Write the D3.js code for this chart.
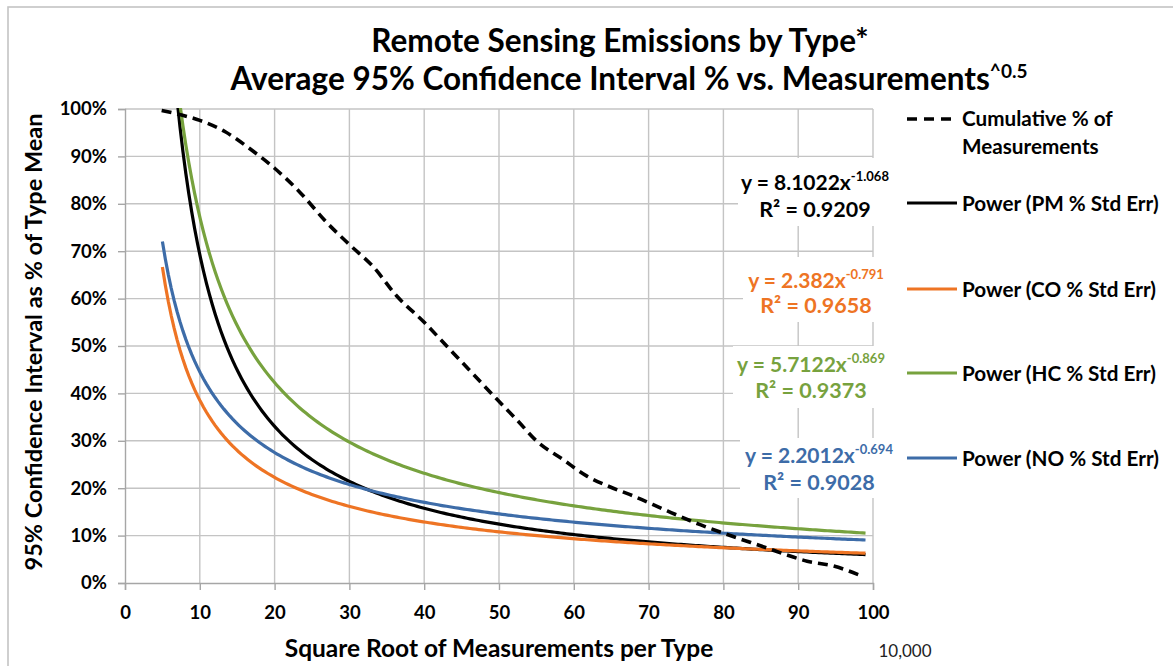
<!DOCTYPE html>
<html>
<head>
<meta charset="utf-8">
<script src="https://cdn.jsdelivr.net/npm/d3@7"></script>
<style>
  html, body { margin: 0; padding: 0; background: #fff; }
  svg { display: block; font-family: Lato, "Open Sans", sans-serif; }
</style>
</head>
<body>
<svg id="chart" width="1173" height="666"></svg>
<script>
// Axis ticks
const xTicks = [0, 10, 20, 30, 40, 50, 60, 70, 80, 90, 100];
const yTicks = [0, 0.1, 0.2, 0.3, 0.4, 0.5, 0.6, 0.7, 0.8, 0.9, 1.0];

// Cumulative % of measurements vs. square root of measurements
const cumX = [4.9, 7.4, 10, 13.4, 16.7, 20, 23.4, 27, 30, 33.2, 36.3, 40, 43, 46, 49.7,
              52.4, 55, 58.6, 61.7, 64.8, 67.9, 72.5, 76.9, 81.3, 85.8, 88.5, 91.2, 94.7, 98.3];
const cumY = [0.997, 0.988, 0.976, 0.952, 0.916, 0.875, 0.824, 0.76, 0.714, 0.667, 0.606, 0.55, 0.50, 0.45, 0.388,
              0.344, 0.30, 0.26, 0.226, 0.203, 0.184, 0.152, 0.123, 0.098, 0.074, 0.059, 0.046, 0.036, 0.016];

// Power trendlines y = a * x^b, as labelled
const trendNames = ["PM", "CO", "HC", "NO"];
const trendCoef  = [8.1022, 2.382, 5.7122, 2.2012];
const trendCoefText = ["8.1022", "2.382", "5.7122", "2.2012"];
const trendExp   = [-1.068, -0.791, -0.869, -0.694];
const trendExpText = ["-1.068", "-0.791", "-0.869", "-0.694"];
const trendR2    = ["0.9209", "0.9658", "0.9373", "0.9028"];
const trendColors = ["#000000", "#EE7424", "#77A23E", "#3D6CA8"];
const trendRange = [5, 99];

const svg = d3.select("#chart");
const W = 1173, H = 666;
const plot = { left: 125, right: 873, top: 109, bottom: 583 };

const x = d3.scaleLinear().domain([0, 100]).range([plot.left, plot.right]);
const y = d3.scaleLinear().domain([0, 1]).range([plot.bottom, plot.top]);

// Outer chart frame (top and left edges visible)
svg.append("rect")
  .attr("x", 8).attr("y", 7).attr("width", W + 20).attr("height", H + 20)
  .attr("fill", "none").attr("stroke", "#c4c4c4").attr("stroke-width", 1.6);

// Gridlines
const grid = svg.append("g");
grid.selectAll("line.v").data(xTicks.slice(1)).join("line")
  .attr("x1", d => x(d)).attr("x2", d => x(d))
  .attr("y1", plot.top).attr("y2", plot.bottom)
  .attr("stroke", "#c4c4c4").attr("stroke-width", 1.4);
grid.selectAll("line.h").data(yTicks.slice(1)).join("line")
  .attr("y1", d => y(d)).attr("y2", d => y(d))
  .attr("x1", plot.left).attr("x2", plot.right)
  .attr("stroke", "#c4c4c4").attr("stroke-width", 1.4);

// Axes
const xAxis = d3.axisBottom(x).tickValues(xTicks).tickSize(7).tickPadding(11).tickFormat(d3.format("d"));
const yAxis = d3.axisLeft(y).tickValues(yTicks).tickSize(7).tickPadding(11).tickFormat(d3.format(".0%"));

const gx = svg.append("g").attr("transform", `translate(0,${plot.bottom})`).call(xAxis);
const gy = svg.append("g").attr("transform", `translate(${plot.left},0)`).call(yAxis);
[gx, gy].forEach(g => {
  g.select(".domain").attr("stroke", "#a6a6a6").attr("stroke-width", 1.4);
  g.selectAll(".tick line").attr("stroke", "#a6a6a6").attr("stroke-width", 1.4);
  g.selectAll(".tick text")
    .attr("fill", "#000").attr("font-family", "Lato, sans-serif")
    .attr("font-size", 18.5).attr("font-weight", 700);
});
gx.selectAll(".tick text").attr("dy", "0.95em");

// Clip for series
svg.append("clipPath").attr("id", "plotClip")
  .append("rect").attr("x", plot.left).attr("y", plot.top - 1)
  .attr("width", plot.right - plot.left + 2).attr("height", plot.bottom - plot.top + 1);

const series = svg.append("g").attr("clip-path", "url(#plotClip)");
const line = d3.line().x(d => x(d[0])).y(d => y(d[1])).curve(d3.curveMonotoneX);

// Trendlines
const steps = 240;
trendNames.forEach((name, i) => {
  const pts = d3.range(steps + 1).map(k => {
    const xv = trendRange[0] + (trendRange[1] - trendRange[0]) * k / steps;
    return [xv, trendCoef[i] * Math.pow(xv, trendExp[i])];
  });
  series.append("path")
    .datum(pts)
    .attr("d", d3.line().x(d => x(d[0])).y(d => y(d[1])))
    .attr("fill", "none")
    .attr("stroke", trendColors[i])
    .attr("stroke-width", 3.2);
});

// Cumulative % of measurements (dashed)
series.append("path")
  .datum(cumX.map((v, i) => [v, cumY[i]]))
  .attr("d", line)
  .attr("fill", "none")
  .attr("stroke", "#000")
  .attr("stroke-width", 3.6)
  .attr("stroke-dasharray", "10,6");

// Trendline equation labels with white backing boxes
const labelPos = [
  { cx: 815, y1: 190, y2: 217, box: [738, 158, 155, 68] },
  { cx: 816, y1: 288, y2: 313, box: [743, 257, 145, 65] },
  { cx: 811, y1: 372, y2: 398, box: [733, 346, 157, 62] },
  { cx: 819, y1: 463, y2: 490, box: [740, 438, 158, 60] }
];
const labels = svg.append("g");
trendNames.forEach((name, i) => {
  const p = labelPos[i];
  labels.append("rect")
    .attr("x", p.box[0]).attr("y", p.box[1]).attr("width", p.box[2]).attr("height", p.box[3])
    .attr("fill", "#fff");
  const t1 = labels.append("text")
    .attr("x", p.cx).attr("y", p.y1).attr("text-anchor", "middle")
    .attr("font-size", 21).attr("font-weight", 700).attr("fill", trendColors[i]);
  t1.append("tspan").text(`y = ${trendCoefText[i]}x`);
  t1.append("tspan").attr("dy", -9).attr("font-size", 13).text(trendExpText[i]);
  labels.append("text")
    .attr("x", p.cx).attr("y", p.y2).attr("text-anchor", "middle")
    .attr("font-size", 21.5).attr("font-weight", 700).attr("fill", trendColors[i])
    .text(`R² = ${trendR2[i]}`);
});

// Legend
const legend = svg.append("g").attr("font-size", 20.7).attr("font-weight", 700).attr("fill", "#000");
legend.append("line")
  .attr("x1", 907).attr("x2", 951).attr("y1", 119).attr("y2", 119)
  .attr("stroke", "#000").attr("stroke-width", 3.6).attr("stroke-dasharray", "10,7");
legend.append("text").attr("x", 962).attr("y", 126).text("Cumulative % of");
legend.append("text").attr("x", 962).attr("y", 154).text("Measurements");
const legendY = [203, 289, 373, 458];
trendNames.forEach((name, i) => {
  legend.append("line")
    .attr("x1", 907).attr("x2", 957).attr("y1", legendY[i]).attr("y2", legendY[i])
    .attr("stroke", trendColors[i]).attr("stroke-width", 3.2);
  legend.append("text").attr("x", 962).attr("y", legendY[i] + 7.5)
    .text(`Power (${name} % Std Err)`);
});

// Titles
svg.append("text")
  .attr("x", 620).attr("y", 52).attr("text-anchor", "middle")
  .attr("font-size", 31.5).attr("font-weight", 700).attr("fill", "#000")
  .text("Remote Sensing Emissions by Type*");
const t2 = svg.append("text")
  .attr("x", 629).attr("y", 90).attr("text-anchor", "middle")
  .attr("font-size", 31.5).attr("font-weight", 700).attr("fill", "#000");
t2.append("tspan").text("Average 95% Confidence Interval % vs. Measurements");
t2.append("tspan").attr("dy", -12).attr("font-size", 19).text("^0.5");

// Axis titles
svg.append("text")
  .attr("x", 499).attr("y", 657).attr("text-anchor", "middle")
  .attr("font-size", 24.5).attr("font-weight", 700).attr("fill", "#000")
  .text("Square Root of Measurements per Type");
svg.append("text")
  .attr("x", 905).attr("y", 657).attr("text-anchor", "middle")
  .attr("font-size", 17).attr("fill", "#222")
  .text("10,000");
svg.append("text")
  .attr("transform", "translate(42,342) rotate(-90)")
  .attr("text-anchor", "middle")
  .attr("font-size", 23.5).attr("font-weight", 700).attr("fill", "#000")
  .text("95% Confidence Interval as  % of Type Mean");
</script>
</body>
</html>
